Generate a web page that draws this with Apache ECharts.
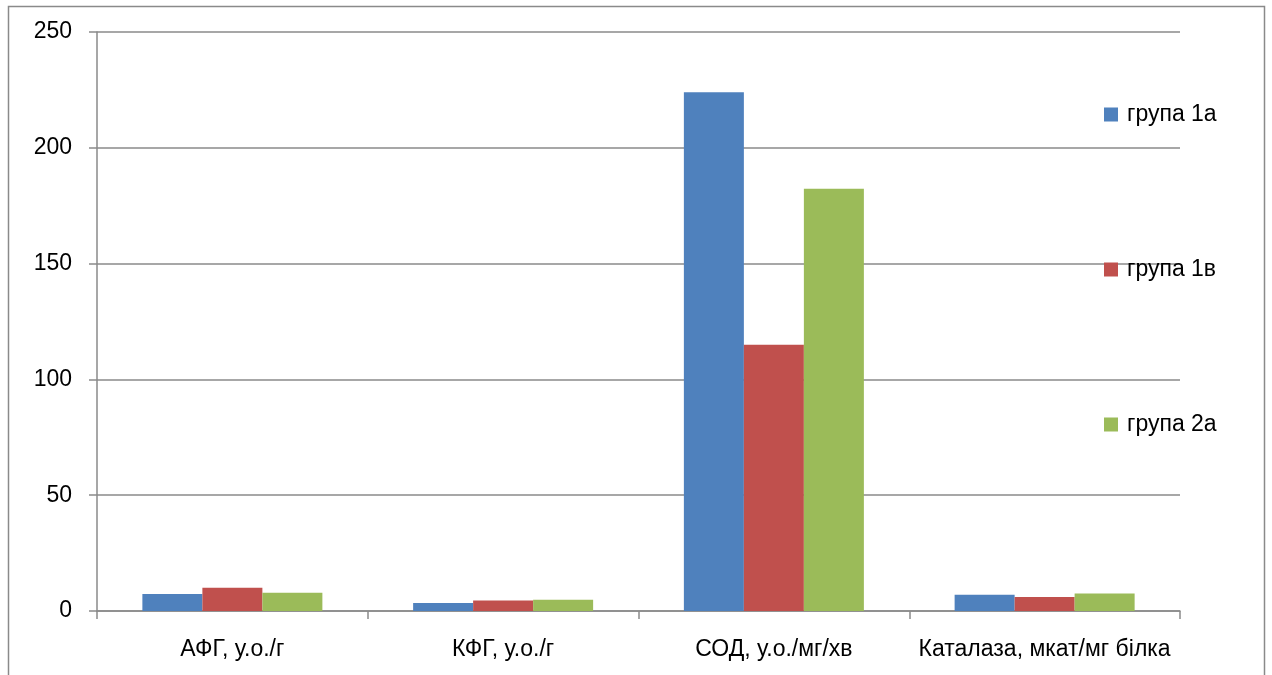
<!DOCTYPE html>
<html><head><meta charset="utf-8">
<script src="https://cdn.jsdelivr.net/npm/echarts@6/dist/echarts.min.js"></script>
<style>html,body{margin:0;padding:0;background:#fff}#c{width:1272px;height:675px}</style>
</head><body><div id="c"></div>
<script>
const categories = ['АФГ, у.о./г', 'КФГ, у.о./г', 'СОД, у.о./мг/хв', 'Каталаза, мкат/мг білка'];
const group1a = [7.3, 3.5, 224, 7.0];
const group1v = [10.0, 4.5, 115, 6.0];
const group2a = [7.9, 4.9, 182.3, 7.6];
const seriesNames = ['група 1а', 'група 1в', 'група 2а'];
const yTicks = { min: 0, max: 250, interval: 50 };

const font = '"Liberation Sans", Arial, sans-serif';
const legendTops = [103, 258, 413];
const chart = echarts.init(document.getElementById('c'));
chart.setOption({
  animation: false,
  textStyle: { fontFamily: font },
  graphic: [{ type: 'rect', shape: { x: 8.5, y: 6.5, width: 1256, height: 700 }, style: { fill: 'none', stroke: '#8a8a8a', lineWidth: 1.5 }, silent: true }],
  grid: { left: 97, right: 92, top: 32, bottom: 64 },
  legend: seriesNames.map((n, i) => ({
    orient: 'vertical', left: 1104, top: legendTops[i], padding: 0,
    itemWidth: 14, itemHeight: 14, itemGap: 8, icon: 'rect',
    textStyle: { fontSize: 23, color: '#000', fontFamily: font, padding: [0, 0, 0, 4] },
    data: [n]
  })),
  xAxis: {
    type: 'category', data: categories,
    axisLine: { lineStyle: { color: '#8a8a8a', width: 1.5 } },
    axisTick: { show: true, interval: 0, length: 8, lineStyle: { color: '#8a8a8a', width: 1.5 } },
    axisLabel: { interval: 0, fontSize: 23, color: '#000', margin: 27, fontFamily: font }
  },
  yAxis: {
    type: 'value', min: yTicks.min, max: yTicks.max, interval: yTicks.interval,
    axisLine: { show: true, lineStyle: { color: '#8a8a8a', width: 1.5 } },
    axisTick: { show: true, length: 8, lineStyle: { color: '#8a8a8a', width: 1.5 } },
    axisLabel: { fontSize: 23, color: '#000', margin: 25, fontFamily: font },
    splitLine: { lineStyle: { color: '#8a8a8a', width: 1.5 } }
  },
  series: [
    { name: seriesNames[0], type: 'bar', data: group1a, barWidth: 60, barGap: '0%', itemStyle: { color: '#4F81BD' } },
    { name: seriesNames[1], type: 'bar', data: group1v, barWidth: 60, barGap: '0%', itemStyle: { color: '#C0504D' } },
    { name: seriesNames[2], type: 'bar', data: group2a, barWidth: 60, barGap: '0%', itemStyle: { color: '#9BBB59' } }
  ]
});
</script></body></html>
